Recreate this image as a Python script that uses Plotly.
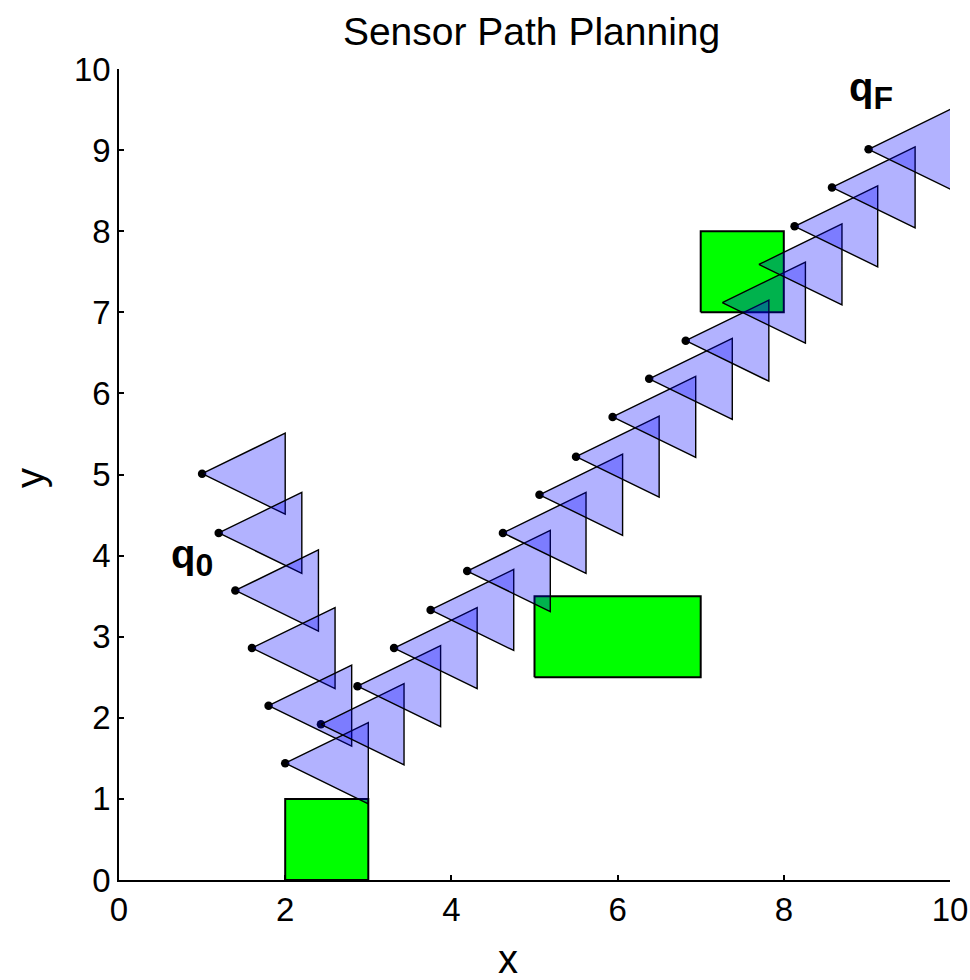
import plotly.graph_objects as go

# Sensor positions (apex of each sensing triangle)
sensor_x = [1.0, 1.2, 1.4, 1.6, 1.8, 2.0, 2.43, 2.87, 3.31, 3.75, 4.19, 4.62,
            5.06, 5.50, 5.94, 6.38, 6.82, 7.26, 7.70, 8.13, 8.58, 9.02]
sensor_y = [5.01, 4.28, 3.57, 2.86, 2.15, 1.44, 1.92, 2.39, 2.86, 3.33, 3.81, 4.28,
            4.75, 5.22, 5.71, 6.18, 6.65, 7.12, 7.59, 8.06, 8.54, 9.01]

# Sensor field-of-view geometry (range and half-width)
fov_range = 1.0
fov_half = 0.5

# Obstacles (rectangles)
obs_x0 = [2, 5, 7]
obs_x1 = [3, 7, 8]
obs_y0 = [0, 2.5, 7]
obs_y1 = [1, 3.5, 8]

x_ticks = [0, 2, 4, 6, 8, 10]
y_ticks = [0, 1, 2, 3, 4, 5, 6, 7, 8, 9, 10]

FONT = "Liberation Sans, Arial, sans-serif"

fig = go.Figure()

# path points
fig.add_trace(go.Scatter(x=sensor_x, y=sensor_y, mode="markers",
                         marker=dict(color="black", size=8.5),
                         showlegend=False, hoverinfo="skip"))

# obstacles
for a, b, c, d in zip(obs_x0, obs_x1, obs_y0, obs_y1):
    fig.add_trace(go.Scatter(x=[a, b, b, a, a], y=[c, c, d, d, c], mode="lines",
                             fill="toself", fillcolor="#00ff00",
                             line=dict(color="black", width=2),
                             showlegend=False, hoverinfo="skip"))

# sensing triangles
for sx, sy in zip(sensor_x, sensor_y):
    fig.add_trace(go.Scatter(
        x=[sx, sx + fov_range, sx + fov_range, sx],
        y=[sy, sy + fov_half, sy - fov_half, sy],
        mode="lines", fill="toself", fillcolor="rgba(0,0,255,0.3)",
        line=dict(color="black", width=1.4),
        showlegend=False, hoverinfo="skip"))

fig.add_annotation(x=0.6, y=3.98, xref="x", yref="y",
                   text="<b>q<sub><span style='font-size:32px'>0</span></sub></b>",
                   showarrow=False, xanchor="left", yanchor="middle",
                   font=dict(family=FONT, size=40, color="black"))
fig.add_annotation(x=8.76, y=9.73, xref="x", yref="y",
                   text="<b>q<sub><span style='font-size:32px'>F</span></sub></b>",
                   showarrow=False, xanchor="left", yanchor="middle",
                   font=dict(family=FONT, size=40, color="black"))

# axis labels
fig.add_annotation(x=0.468, y=-0.097, xref="paper", yref="paper", text="x",
                   showarrow=False, xanchor="center", yanchor="middle",
                   font=dict(family=FONT, size=40, color="black"))
fig.add_annotation(x=-0.108, y=0.496, xref="paper", yref="paper", text="y",
                   showarrow=False, xanchor="center", yanchor="middle", textangle=-90,
                   font=dict(family=FONT, size=40, color="black"))

axis_common = dict(showgrid=False, zeroline=False, showline=True, linecolor="black",
                   linewidth=1.5, ticks="inside", ticklen=5, tickcolor="black",
                   tickwidth=1.5, mirror=False, automargin=False,
                   tickfont=dict(family=FONT, size=33, color="black"))

fig.update_layout(
    width=970, height=980,
    margin=dict(l=119, r=20, t=69, b=100),
    paper_bgcolor="white", plot_bgcolor="white",
    title=dict(text="Sensor Path Planning", x=0.548, xanchor="center",
               y=0.968, yanchor="middle",
               font=dict(family=FONT, size=39, color="black")),
    xaxis=dict(range=[0, 10], tickvals=x_ticks, **axis_common),
    yaxis=dict(range=[0, 10], tickvals=y_ticks, **axis_common),
)

fig.write_html("out.html", config={"displayModeBar": False},
               post_script="document.body.style.margin='0';document.body.style.overflow='hidden';")
